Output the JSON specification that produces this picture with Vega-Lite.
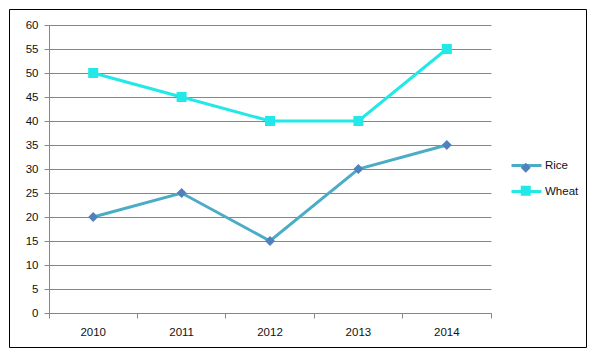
{
  "$schema": "https://vega.github.io/schema/vega-lite/v6.json",
  "width": 577,
  "height": 338,
  "autosize": {"type": "none"},
  "padding": {"left": 9, "top": 9, "right": 18, "bottom": 12},
  "background": "white",
  "config": {
    "view": {"stroke": "black", "strokeWidth": 1},
    "font": "Liberation Sans",
    "axis": {"labelFont": "Liberation Sans", "labelFontSize": 11.5, "labelColor": "#111111", "domainColor": "#868686", "tickColor": "#868686", "gridColor": "#868686", "title": null}
  },
  "data": {"values": [
    {"year": "2010", "series": "Rice", "value": 20},
    {"year": "2011", "series": "Rice", "value": 25},
    {"year": "2012", "series": "Rice", "value": 15},
    {"year": "2013", "series": "Rice", "value": 30},
    {"year": "2014", "series": "Rice", "value": 35},
    {"year": "2010", "series": "Wheat", "value": 50},
    {"year": "2011", "series": "Wheat", "value": 45},
    {"year": "2012", "series": "Wheat", "value": 40},
    {"year": "2013", "series": "Wheat", "value": 40},
    {"year": "2014", "series": "Wheat", "value": 55}
  ]},
  "encoding": {
    "x": {"field": "year", "type": "ordinal", "sort": null,
      "scale": {"type": "band", "range": [40, 482], "paddingInner": 0, "paddingOuter": 0},
      "axis": {"orient": "bottom", "offset": -34, "bandPosition": 1, "tickExtra": true, "tickSize": 5, "labelPadding": 8, "labelAngle": 0, "grid": false, "domain": true}},
    "y": {"field": "value", "type": "quantitative",
      "scale": {"domain": [0, 60], "range": [304, 16], "nice": false},
      "axis": {"orient": "left", "offset": -40, "values": [0,5,10,15,20,25,30,35,40,45,50,55,60], "tickSize": 5, "labelPadding": 6, "grid": true, "domain": true}}
  },
  "layer": [
    {
      "mark": {"type": "line", "strokeWidth": 3},
      "encoding": {
        "stroke": {"field": "series", "type": "nominal",
          "scale": {"range": ["#4BACC6", "#22E8E8"]},
          "legend": {"orient": "none", "legendX": 501, "legendY": 140, "title": null, "padding": 0, "symbolType": "stroke", "symbolSize": 900, "symbolStrokeWidth": 3, "labelFont": "Liberation Sans", "labelFontSize": 11.5, "labelColor": "#111111", "labelOffset": 2, "rowPadding": 3}}
      }
    },
    {
      "mark": {"type": "point", "filled": true, "opacity": 1, "size": 100, "strokeWidth": 0},
      "encoding": {
        "fill": {"field": "series", "type": "nominal",
          "scale": {"domain": ["Rice", "Wheat"], "range": ["#4F81BD", "#22E8E8"]},
          "legend": {"orient": "none", "legendX": 511, "legendY": 153, "title": null, "padding": 0, "symbolSize": 100, "symbolStrokeWidth": 0, "labelExpr": "''", "labelFontSize": 11.5, "labelOffset": 2, "rowPadding": 10}},
        "shape": {"field": "series", "type": "nominal",
          "scale": {"domain": ["Rice", "Wheat"], "range": ["diamond", "square"]},
          "legend": {"orient": "none", "legendX": 511, "legendY": 153, "title": null, "padding": 0, "symbolSize": 100, "symbolStrokeWidth": 0, "labelExpr": "''", "labelFontSize": 11.5, "labelOffset": 2, "rowPadding": 10}}
      }
    }
  ]
}
